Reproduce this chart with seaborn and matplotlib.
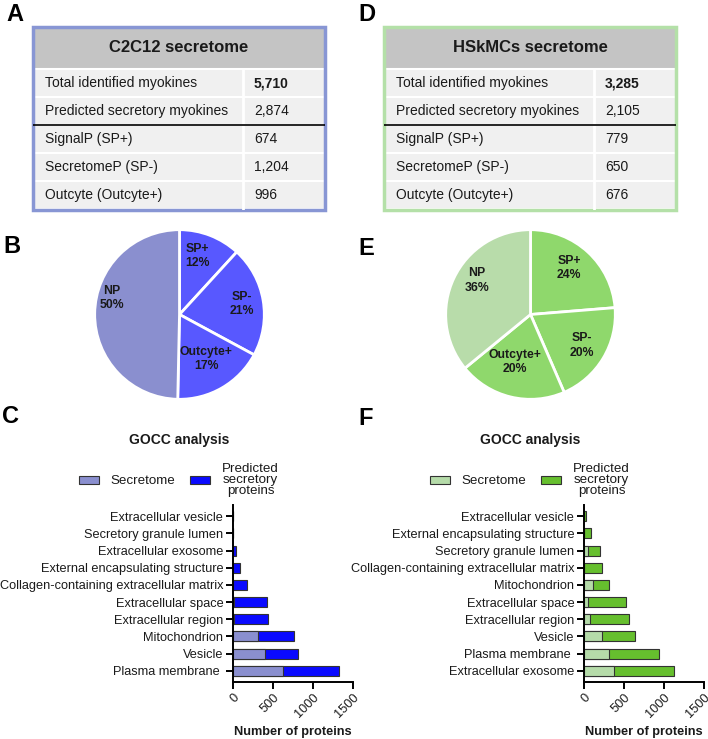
import numpy as np
import pandas as pd
import matplotlib
matplotlib.use("Agg")
import matplotlib.pyplot as plt
from matplotlib.patches import Rectangle, Patch
import seaborn as sns

## Données

table_rows = ["Total identified myokines", "Predicted secretory myokines",
              "SignalP (SP+)", "SecretomeP (SP-)", "Outcyte (Outcyte+)"]
c2c12_counts = [5710, 2874, 674, 1204, 996]
hskmc_counts = [3285, 2105, 779, 650, 676]

pie_labels = ["SP+", "SP-", "Outcyte+", "NP"]
c2c12_pct = [12, 21, 17, 50]
hskmc_pct = [24, 20, 20, 36]

go_c2c12 = ["Extracellular vesicle", "Secretory granule lumen", "Extracellular exosome",
            "External encapsulating structure", "Collagen-containing extracellular matrix",
            "Extracellular space", "Extracellular region", "Mitochondrion", "Vesicle",
            "Plasma membrane "]
sec_c2c12 = [0, 0, 0, 0, 0, 15, 15, 313, 400, 621]
pred_c2c12 = [0, 0, 40, 88, 172, 404, 417, 447, 410, 699]

go_hskmc = ["Extracellular vesicle", "External encapsulating structure", "Secretory granule lumen",
            "Collagen-containing extracellular matrix", "Mitochondrion", "Extracellular space",
            "Extracellular region", "Vesicle", "Plasma membrane ", "Extracellular exosome"]
sec_hskmc = [0, 0, 45, 3, 113, 48, 75, 225, 313, 370]
pred_hskmc = [25, 83, 159, 218, 204, 481, 488, 413, 625, 755]

## Style

sns.set_style("white")
plt.rcParams['font.family'] = ['Liberation Sans', 'DejaVu Sans']
TXT = '#1a1a1a'

W, H = 708, 739
fig = plt.figure(figsize=(W / 100, H / 100), dpi=100)


def px_axes(x0, y0, x1, y1):
    # axes placées en pixels (origine en haut à gauche)
    return fig.add_axes([x0 / W, 1 - y1 / H, (x1 - x0) / W, (y1 - y0) / H])


def draw_table(box, title, counts, border):
    x0, y0, x1, y1 = box
    w, h = x1 - x0, y1 - y0
    ax = px_axes(x0, y0, x1, y1)
    ax.set_xlim(0, w)
    ax.set_ylim(h, 0)
    ax.axis('off')
    ax.add_patch(Rectangle((0, 0), w, 40, color='#c4c4c4'))
    ax.text(w / 2, 21, title, ha='center', va='center', fontsize=12, fontweight='bold', color=TXT)
    row_h = 28
    col_x = 210
    for i, (lab, val) in enumerate(zip(table_rows, counts)):
        y = 42 + i * row_h
        ax.add_patch(Rectangle((0, y), w, row_h, facecolor='#f0f0f0', edgecolor='white', lw=1.5))
        ax.text(12, y + row_h / 2, lab, ha='left', va='center', fontsize=10, color=TXT)
        ax.text(col_x + 11, y + row_h / 2, f"{val:,}", ha='left', va='center', fontsize=10,
                color=TXT, fontweight='bold' if i == 0 else 'normal')
    ax.plot([col_x, col_x], [42, h], color='white', lw=2)
    ax.plot([0, w], [42 + 2 * row_h, 42 + 2 * row_h], color='black', lw=1.2)
    ax.add_patch(Rectangle((0, 0), w, h, fill=False, edgecolor=border, lw=2.5, clip_on=False))


def draw_pie(box, counts, pct, colors, dists, nudges):
    ax = px_axes(*box)
    sizes = [counts[2], counts[3], counts[4], counts[0] - counts[1]]
    wedges, _ = ax.pie(sizes, colors=colors, startangle=90, counterclock=False,
                       wedgeprops=dict(edgecolor='white', linewidth=2))
    for wdg, lab, p, d, n in zip(wedges, pie_labels, pct, dists, nudges):
        ang = np.deg2rad((wdg.theta1 + wdg.theta2) / 2 + n)
        ax.text(d * np.cos(ang), d * np.sin(ang), f"{lab}\n{p}%", ha='center', va='center',
                fontsize=8.8, fontweight='bold', color=TXT, linespacing=1.25)
    ax.set_xlim(-1.02, 1.02)
    ax.set_ylim(-1.02, 1.02)


def draw_bars(box, terms, sec, pred, c_sec, c_pred, center_x):
    ax = px_axes(*box)
    df = pd.DataFrame({'terme': terms, 'secretome': sec,
                       'total': np.array(sec) + np.array(pred)})
    sns.barplot(data=df, x='total', y='terme', color=c_pred, saturation=1, width=0.58,
                edgecolor='#333333', linewidth=0.8, errorbar=None, ax=ax)
    sns.barplot(data=df, x='secretome', y='terme', color=c_sec, saturation=1, width=0.58,
                edgecolor='#333333', linewidth=0.8, errorbar=None, ax=ax)
    ax.set_xlim(0, 1500)
    ax.set_xticks([0, 500, 1000, 1500])
    ax.set_ylim(9.65, -0.65)
    sns.despine(ax=ax)
    for s in ['left', 'bottom']:
        ax.spines[s].set_linewidth(1.4)
        ax.spines[s].set_color('black')
    ax.tick_params(axis='both', length=5, width=1.4, color='black', labelsize=9.2,
                   labelcolor=TXT, pad=2, left=True, bottom=True)
    plt.setp(ax.get_xticklabels(), rotation=45, ha='right', rotation_mode='anchor')
    ax.set_ylabel('')
    ax.set_xlabel('Number of proteins', fontsize=9.2, fontweight='bold', color=TXT, labelpad=4)
    fig.text(center_x / W, 1 - 440 / H, 'GOCC analysis', ha='center', va='center',
             fontsize=10, fontweight='bold', color=TXT)
    handles = [Patch(facecolor=c_sec, edgecolor='#333333', lw=0.8),
               Patch(facecolor=c_pred, edgecolor='#333333', lw=0.8)]
    leg = fig.legend(handles, ['Secretome', 'Predicted\nsecretory\nproteins'], ncol=2,
                     loc='center', bbox_to_anchor=(center_x / W, 1 - 480 / H), frameon=False,
                     fontsize=9.6, handlelength=1.5, handleheight=0.6, handletextpad=0.9,
                     columnspacing=1.1, borderpad=0)
    for t in leg.get_texts():
        t.set_multialignment('center')
        t.set_linespacing(0.9)
        t.set_color(TXT)


## Panneaux

draw_table((33, 27, 325, 210), 'C2C12 secretome', c2c12_counts, '#8896d4')
draw_table((384, 27, 676, 210), 'HSkMCs secretome', hskmc_counts, '#b4e0a8')

draw_pie((93, 228, 266, 401), c2c12_counts, c2c12_pct,
         ['#5858ff', '#5858ff', '#5858ff', '#8a8fcf'],
         [0.72, 0.75, 0.61, 0.82], [4, 0, 1, -13])
draw_pie((444, 228, 617, 401), hskmc_counts, hskmc_pct,
         ['#8fd86c', '#8fd86c', '#8fd86c', '#b8dcaa'],
         [0.71, 0.71, 0.59, 0.75], [3, 0, -4, -7])

draw_bars((233, 505, 353, 682), go_c2c12, sec_c2c12, pred_c2c12, '#8a8fcf', '#0a0aff', 179)
draw_bars((584, 505, 704, 682), go_hskmc, sec_hskmc, pred_hskmc, '#b5dba9', '#66bf2e', 530)

for lettre, x, y in [('A', 6, 3), ('B', 3, 235), ('C', 2, 405),
                     ('D', 358, 3), ('E', 358, 237), ('F', 358, 407)]:
    fig.text(x / W, 1 - y / H, lettre, ha='left', va='top', fontsize=17, fontweight='bold',
             color='black')

plt.savefig('out.png', dpi=100)
